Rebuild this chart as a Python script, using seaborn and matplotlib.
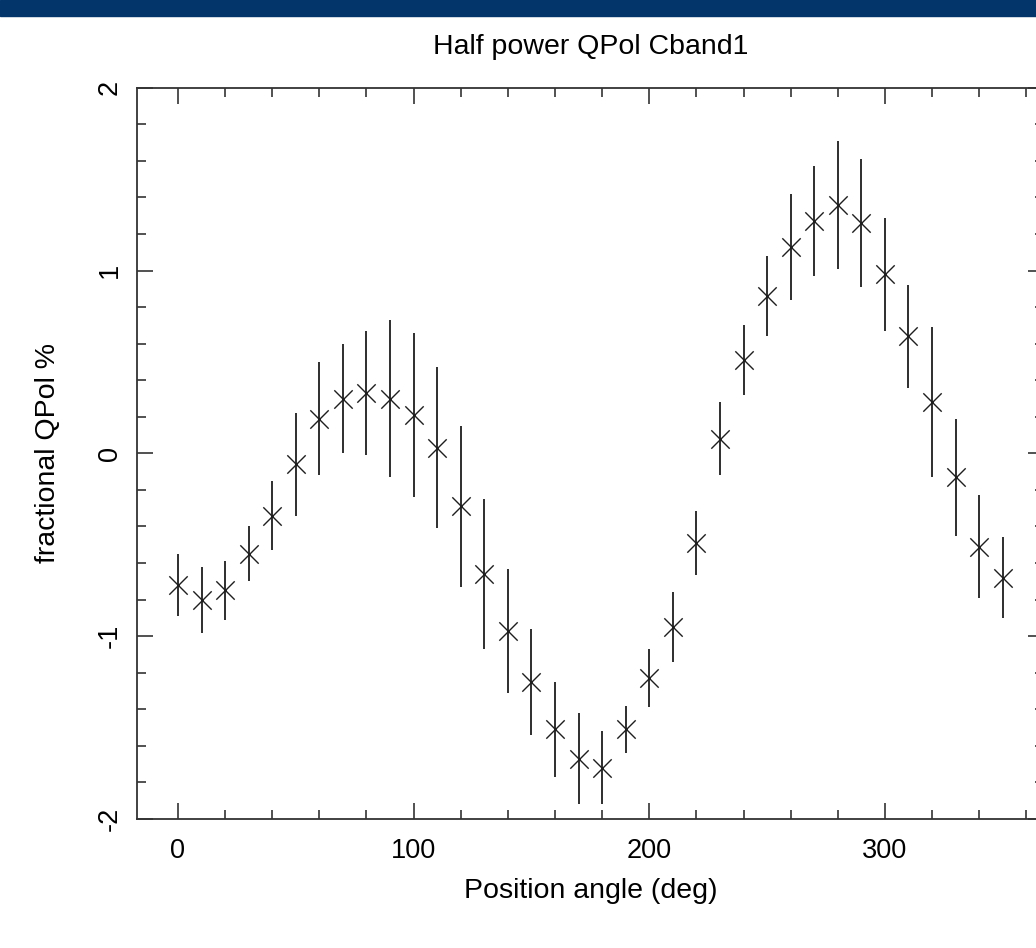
import matplotlib
matplotlib.use("Agg")
import matplotlib.pyplot as plt
from matplotlib.ticker import MultipleLocator
import seaborn as sns
import pandas as pd

# ---- data ----
angles = [0, 10, 20, 30, 40, 50, 60, 70, 80, 90, 100, 110, 120, 130, 140, 150, 160, 170,
          180, 190, 200, 210, 220, 230, 240, 250, 260, 270, 280, 290, 300, 310, 320, 330,
          340, 350]
qpol = [-0.72, -0.80, -0.75, -0.55, -0.34, -0.06, 0.19, 0.30, 0.33, 0.30, 0.21, 0.03,
        -0.29, -0.66, -0.97, -1.25, -1.51, -1.67, -1.72, -1.51, -1.23, -0.95, -0.49, 0.08,
        0.51, 0.86, 1.13, 1.27, 1.36, 1.26, 0.98, 0.64, 0.28, -0.13, -0.51, -0.68]
qerr = [0.17, 0.18, 0.16, 0.15, 0.19, 0.28, 0.31, 0.30, 0.34, 0.43, 0.45, 0.44,
        0.44, 0.41, 0.34, 0.29, 0.26, 0.25, 0.20, 0.13, 0.16, 0.19, 0.175, 0.20,
        0.19, 0.22, 0.29, 0.30, 0.35, 0.35, 0.31, 0.28, 0.41, 0.32, 0.28, 0.22]

title = "Half power QPol Cband1"
xlabel = "Position angle (deg)"
ylabel = "fractional QPol %"

df = pd.DataFrame({"angle": angles, "qpol": qpol, "err": qerr})

sns.set_style("ticks")
plt.rcParams["font.family"] = ["Liberation Sans", "DejaVu Sans"]
plt.rcParams["axes.unicode_minus"] = False
plt.rcParams["text.color"] = "black"
plt.rcParams["axes.labelcolor"] = "black"

fig = plt.figure(figsize=(10.36, 9.48), dpi=100)
# top banner
fig.patches.append(plt.Rectangle((0, 1 - 16 / 948), 1, 16 / 948, transform=fig.transFigure,
                                 color="#03356a", zorder=10))

ax = fig.add_axes([136.7 / 1036, (948 - 819) / 948, 907.3 / 1036, (819 - 87.7) / 948])

ink = "#1e1e1e"
ax.errorbar(df["angle"], df["qpol"], yerr=df["err"], fmt="none", ecolor=ink,
            elinewidth=1.3, capsize=0, zorder=2)
sns.scatterplot(data=df, x="angle", y="qpol", marker="x", s=175, color=ink,
                linewidth=1.0, ax=ax, zorder=3, legend=False)

ax.set_xlim(-17.5, 367.5)
ax.set_ylim(-2, 2)
ax.xaxis.set_major_locator(MultipleLocator(100))
ax.xaxis.set_minor_locator(MultipleLocator(20))
ax.yaxis.set_major_locator(MultipleLocator(1))
ax.yaxis.set_minor_locator(MultipleLocator(0.2))

for sp in ax.spines.values():
    sp.set_color("#333333")
    sp.set_linewidth(1.3)

ax.tick_params(which="both", direction="in", top=True, right=True, color="#333333",
               width=1.2, labelsize=19.5, labelcolor="black")
ax.tick_params(which="major", length=11.5)
ax.tick_params(which="minor", length=6.5)
ax.tick_params(axis="x", which="major", pad=14)
ax.tick_params(axis="y", which="major", pad=10, labelrotation=90)
for lbl in ax.get_yticklabels():
    lbl.set_va("center")

ax.set_xlabel(xlabel, fontsize=20.5, labelpad=10)
ax.set_ylabel(ylabel, fontsize=20.5, labelpad=26)
ax.set_title(title, fontsize=20.5, pad=24)

fig.savefig("out.png", dpi=100)
